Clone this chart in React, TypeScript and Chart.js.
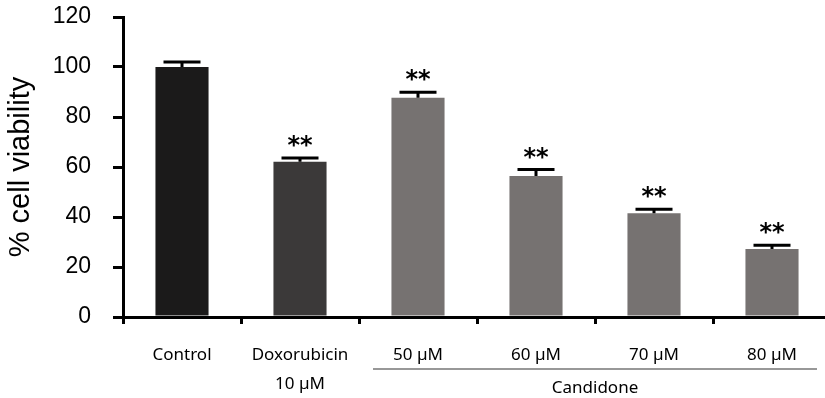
import React, { useEffect, useRef } from "react";
import { Chart, registerables } from "chart.js";

Chart.register(...registerables);

const categories: (string | string[])[] = [
  "Control",
  ["Doxorubicin", "10 µM"],
  "50 µM",
  "60 µM",
  "70 µM",
  "80 µM",
];
const viability = [100, 62.1, 87.7, 56.4, 41.5, 27.2];
const errors = [2.0, 1.5, 2.2, 2.6, 1.6, 1.5];
const significance = ["", "**", "**", "**", "**", "**"];
const barColors = ["#1b1a1a", "#3b3939", "#767271", "#767271", "#767271", "#767271"];
const groupLabel = "Candidone";
const groupStart = 2;
const groupEnd = 5;
const yTicks = [0, 20, 40, 60, 80, 100, 120];

const annotationsPlugin = {
  id: "annotations",
  afterDatasetsDraw(chart: any) {
    const { ctx, scales } = chart;
    const x = scales.x;
    const y = scales.y;
    ctx.save();
    viability.forEach((v, i) => {
      const cx = x.getPixelForValue(i);
      const top = y.getPixelForValue(v);
      const capY = y.getPixelForValue(v + errors[i]);
      ctx.strokeStyle = "#000";
      ctx.lineWidth = 3;
      ctx.beginPath();
      ctx.moveTo(cx, top);
      ctx.lineTo(cx, capY);
      ctx.moveTo(cx - 18.5, capY);
      ctx.lineTo(cx + 18.5, capY);
      ctx.stroke();
      if (significance[i]) {
        ctx.fillStyle = "#000";
        ctx.font = "bold 24px 'DejaVu Sans'";
        ctx.textAlign = "center";
        ctx.textBaseline = "middle";
        ctx.fillText(significance[i], cx, capY - 11);
      }
    });
    const half = (x.getPixelForValue(1) - x.getPixelForValue(0)) / 2;
    const x0 = x.getPixelForValue(groupStart) - half + 14;
    const x1 = x.getPixelForValue(groupEnd) + half - 14;
    const lineY = y.getPixelForValue(0) + 52;
    ctx.strokeStyle = "#333";
    ctx.lineWidth = 1.2;
    ctx.beginPath();
    ctx.moveTo(x0, lineY);
    ctx.lineTo(x1, lineY);
    ctx.stroke();
    ctx.fillStyle = "#000";
    ctx.font = "17px 'Noto Sans'";
    ctx.textAlign = "center";
    ctx.textBaseline = "middle";
    ctx.fillText(groupLabel, (x0 + x1) / 2, lineY + 19);
    ctx.restore();
  },
};

export default function App() {
  const ref = useRef<HTMLCanvasElement>(null);
  useEffect(() => {
    if (!ref.current) return;
    const chart = new Chart(ref.current, {
      type: "bar",
      data: {
        labels: categories,
        datasets: [
          {
            data: viability,
            backgroundColor: barColors,
            borderWidth: 0,
            categoryPercentage: 1,
            barPercentage: 0.45,
          },
        ],
      },
      options: {
        animation: false,
        responsive: false,
        maintainAspectRatio: false,
        layout: { padding: { top: 17, left: 0, right: 0, bottom: 0 } },
        plugins: { legend: { display: false }, tooltip: { enabled: false } },
        scales: {
          x: {
            offset: true,
            grid: {
              display: true,
              offset: true,
              drawOnChartArea: false,
              drawTicks: true,
              tickLength: 7,
              tickWidth: 3,
              tickColor: "#000",
              color: "#000",
              lineWidth: 3,
            },
            border: { display: true, color: "#000", width: 3 },
            ticks: {
              color: "#000",
              padding: 17,
              maxRotation: 0,
              autoSkip: false,
              font: { family: "'Noto Sans'", size: 17, lineHeight: "29px" as any },
            },
            afterFit(scale: any) {
              scale.height = 81;
              scale.paddingLeft = 0;
              scale.paddingRight = 0;
            },
          },
          y: {
            min: 0,
            max: 120,
            afterBuildTicks(scale: any) {
              scale.ticks = yTicks.map((v) => ({ value: v }));
            },
            grid: {
              display: true,
              drawOnChartArea: false,
              drawTicks: true,
              tickLength: 10,
              tickWidth: 3,
              tickColor: "#000",
              color: "#000",
              lineWidth: 3,
            },
            border: { display: true, color: "#000", width: 3 },
            ticks: {
              color: "#000",
              padding: 22,
              font: { family: "'Liberation Sans'", size: 23 },
            },
            title: {
              display: true,
              text: "% cell viability",
              color: "#000",
              font: { family: "'Liberation Sans'", size: 29 },
              padding: { top: 4, bottom: 0 },
            },
            afterFit(scale: any) {
              scale.width = 123;
              scale.paddingTop = 0;
              scale.paddingBottom = 0;
            },
          },
        },
      },
      plugins: [annotationsPlugin],
    });
    return () => chart.destroy();
  }, []);
  return (
    <div
      style={{
        position: "fixed",
        left: 0,
        top: 0,
        width: 825,
        height: 398,
        overflow: "hidden",
        background: "#fff",
      }}
    >
      <canvas ref={ref} width={831} height={398} style={{ display: "block", width: 831, height: 398 }} />
    </div>
  );
}
